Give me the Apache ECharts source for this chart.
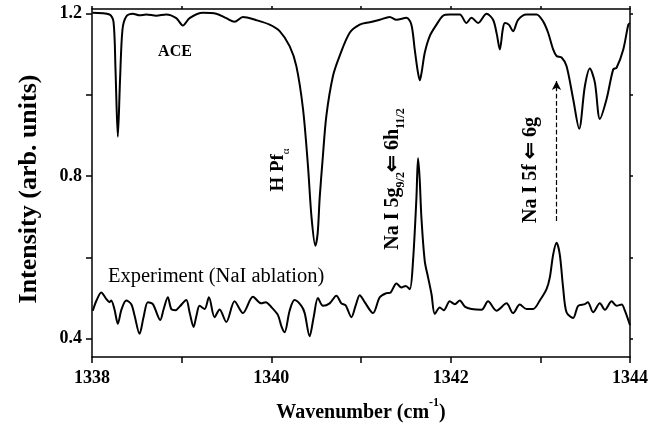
<!DOCTYPE html>
<html><head><meta charset="utf-8">
<script src="https://cdn.jsdelivr.net/npm/echarts@6/dist/echarts.min.js"></script>
<style>html,body{margin:0;padding:0;background:#fff}#c{width:669px;height:428px}</style>
</head><body><div id="c"></div>
<script>
// ACE simulated spectrum
const aceX = [1338.006,1338.195,1338.24,1338.262,1338.288,1338.313,1338.340,1338.382,1338.455,1338.530,1338.605,1338.717,1338.828,1338.940,1339.013,1339.088,1339.237,1339.386,1339.498,1339.590,1339.683,1339.833,1339.981,1340.093,1340.204,1340.279,1340.353,1340.408,1340.449,1340.491,1340.517,1340.539,1340.573,1340.614,1340.688,1340.762,1340.874,1340.986,1341.097,1341.209,1341.320,1341.395,1341.507,1341.562,1341.599,1341.633,1341.656,1341.678,1341.711,1341.767,1341.842,1341.915,1341.990,1342.102,1342.176,1342.232,1342.306,1342.400,1342.473,1342.515,1342.548,1342.581,1342.604,1342.648,1342.696,1342.752,1342.846,1342.958,1343.031,1343.087,1343.143,1343.181,1343.237,1343.292,1343.366,1343.433,1343.497,1343.552,1343.608,1343.664,1343.739,1343.813,1343.850,1343.925,1343.981,1344.0];
const aceY = [1.202,1.198,1.180,1.063,0.897,1.039,1.161,1.193,1.200,1.196,1.198,1.195,1.198,1.189,1.171,1.189,1.202,1.200,1.189,1.180,1.192,1.184,1.173,1.157,1.120,1.071,0.966,0.827,0.697,0.629,0.660,0.746,0.844,0.949,1.047,1.096,1.153,1.173,1.179,1.185,1.192,1.185,1.190,1.173,1.112,1.058,1.036,1.058,1.104,1.145,1.173,1.195,1.198,1.198,1.177,1.190,1.177,1.200,1.185,1.149,1.112,1.161,1.177,1.173,1.157,1.185,1.198,1.198,1.181,1.153,1.112,1.096,1.092,1.071,0.990,0.917,1.022,1.065,1.031,0.941,0.990,1.063,1.067,1.112,1.173,1.177];
// Experiment (NaI ablation)
const expX = [1338.009,1338.050,1338.103,1338.158,1338.195,1338.214,1338.251,1338.288,1338.329,1338.382,1338.438,1338.474,1338.530,1338.575,1338.623,1338.679,1338.761,1338.798,1338.846,1338.884,1338.932,1338.977,1339.051,1339.088,1339.133,1339.166,1339.200,1339.256,1339.304,1339.367,1339.423,1339.498,1339.590,1339.683,1339.795,1339.888,1339.936,1340.003,1340.074,1340.115,1340.148,1340.204,1340.259,1340.335,1340.372,1340.427,1340.472,1340.520,1340.576,1340.650,1340.725,1340.781,1340.829,1340.893,1340.941,1340.986,1341.041,1341.134,1341.209,1341.283,1341.331,1341.395,1341.451,1341.499,1341.544,1341.580,1341.618,1341.636,1341.654,1341.674,1341.711,1341.748,1341.786,1341.823,1341.878,1341.923,1341.990,1342.046,1342.102,1342.158,1342.232,1342.344,1342.417,1342.511,1342.623,1342.696,1342.771,1342.846,1342.920,1342.994,1343.069,1343.106,1343.143,1343.181,1343.217,1343.254,1343.292,1343.366,1343.422,1343.497,1343.530,1343.589,1343.664,1343.720,1343.795,1343.850,1343.906,1343.943,1344.0];
const expY = [0.469,0.494,0.514,0.498,0.490,0.494,0.472,0.437,0.472,0.494,0.485,0.458,0.412,0.453,0.490,0.485,0.446,0.472,0.502,0.473,0.470,0.479,0.495,0.465,0.429,0.458,0.481,0.473,0.502,0.453,0.472,0.441,0.492,0.463,0.503,0.487,0.490,0.477,0.458,0.429,0.416,0.469,0.495,0.481,0.463,0.406,0.453,0.500,0.481,0.487,0.506,0.487,0.482,0.453,0.482,0.507,0.490,0.463,0.502,0.512,0.514,0.536,0.526,0.530,0.522,0.591,0.746,0.844,0.795,0.697,0.591,0.551,0.510,0.461,0.477,0.470,0.492,0.485,0.494,0.479,0.473,0.471,0.492,0.469,0.487,0.463,0.484,0.473,0.473,0.494,0.522,0.551,0.607,0.636,0.607,0.526,0.465,0.451,0.481,0.485,0.490,0.465,0.487,0.471,0.492,0.481,0.484,0.469,0.433];
const xLabelValues = [1338, 1340, 1342, 1344];
const yTickValues = [0.4, 0.6, 0.8, 1.0, 1.2];
const yLabelValues = [0.4, 0.8, 1.2];
const arrowX = 1343.18, arrowFrom = 0.69, arrowTo = 1.034;

const FONT = '"Liberation Serif", "Times New Roman", serif';
const zip = (xs, ys) => xs.map((x, i) => [x, ys[i]]);
const chart = echarts.init(document.getElementById('c'), null, {renderer: 'canvas'});
const axLine = {show: true, lineStyle: {color: '#000', width: 1.5}};
chart.setOption({
  animation: false,
  backgroundColor: '#fff',
  grid: {left: 92, right: 39, top: 9, bottom: 68},
  xAxis: [{
    type: 'value', min: 1338, max: 1344, interval: 1,
    axisLine: axLine, splitLine: {show: false},
    axisTick: {show: true, inside: false, length: 6, lineStyle: {color: '#000', width: 1.5}},
    axisLabel: {margin: 12, color: '#000', fontFamily: FONT, fontWeight: 'bold', fontSize: 18,
      formatter: v => xLabelValues.includes(v) ? String(v) : ''},
    name: '{b|Wavenumber (cm}{s|-1}{b|)}', nameLocation: 'middle', nameGap: 40,
    nameTextStyle: {rich: {
      b: {fontFamily: FONT, fontWeight: 'bold', fontSize: 20, color: '#000', lineHeight: 26, verticalAlign: 'bottom'},
      s: {fontFamily: FONT, fontWeight: 'bold', fontSize: 12, color: '#000', lineHeight: 26, verticalAlign: 'top'}
    }}
  }, {
    type: 'value', position: 'top', min: 1338, max: 1344, interval: 1,
    axisLine: axLine, splitLine: {show: false},
    axisTick: {show: true, length: 3, lineStyle: {color: '#000', width: 1.5}},
    axisLabel: {show: false}
  }],
  yAxis: [{
    type: 'value', min: 0.355, max: 1.2115,
    axisLine: axLine, splitLine: {show: false},
    axisTick: {show: true, length: 6, customValues: yTickValues, lineStyle: {color: '#000', width: 1.5}},
    axisLabel: {margin: 10, customValues: yLabelValues, color: '#000', fontFamily: FONT, fontWeight: 'bold', fontSize: 18,
      formatter: v => v.toFixed(1)},
    name: 'Intensity (arb. units)', nameLocation: 'middle', nameGap: 50,
    nameTextStyle: {fontFamily: FONT, fontWeight: 'bold', fontSize: 26, color: '#000', padding: [0, 0, 0, -12]}
  }, {
    type: 'value', position: 'right', min: 0.355, max: 1.2115,
    axisLine: axLine, splitLine: {show: false},
    axisTick: {show: true, length: 3, customValues: yTickValues, lineStyle: {color: '#000', width: 1.5}},
    axisLabel: {show: false}
  }],
  series: [{
    type: 'line', name: 'ACE', data: zip(aceX, aceY), showSymbol: false, smooth: 0.3,
    lineStyle: {color: '#000', width: 2}
  }, {
    type: 'line', name: 'Experiment', data: zip(expX, expY), showSymbol: false, smooth: 0.3,
    lineStyle: {color: '#000', width: 2},
    markLine: {silent: true, symbol: ['none', 'arrow'], symbolSize: [7, 9], label: {show: false},
      lineStyle: {type: 'dashed', color: '#000', width: 1.2},
      data: [[{coord: [arrowX, arrowFrom]}, {coord: [arrowX, arrowTo]}]]}
  }],
  graphic: [
    {type: 'text', x: 175, y: 52, style: {text: 'ACE', font: 'bold 16px ' + FONT, fill: '#000', align: 'center', verticalAlign: 'middle'}},
    {type: 'text', x: 108, y: 277, style: {text: 'Experiment (NaI ablation)', font: '20.5px ' + FONT, fill: '#000', align: 'left', verticalAlign: 'middle'}},
    {type: 'text', x: 278, y: 170, rotation: Math.PI / 2, style: {
      text: '{m|H Pf}{s|α}', align: 'center', verticalAlign: 'middle',
      rich: {m: {fontFamily: FONT, fontWeight: 'bold', fontSize: 19, fill: '#000', lineHeight: 28, verticalAlign: 'middle'},
             s: {fontFamily: FONT, fontWeight: 'normal', fontSize: 11, fill: '#000', lineHeight: 12, verticalAlign: 'bottom'}}}},
    {type: 'text', x: 393, y: 179, rotation: Math.PI / 2, style: {
      text: '{m|Na I 5g}{s|9/2}{m|⇐ 6h}{s|11/2}', align: 'center', verticalAlign: 'middle',
      rich: {m: {fontFamily: FONT, fontWeight: 'bold', fontSize: 20, fill: '#000', lineHeight: 28, verticalAlign: 'middle'},
             s: {fontFamily: FONT, fontWeight: 'bold', fontSize: 12, fill: '#000', lineHeight: 12, verticalAlign: 'bottom'}}}},
    {type: 'text', x: 531, y: 170, rotation: Math.PI / 2, style: {
      text: 'Na I 5f ⇐ 6g', align: 'center', verticalAlign: 'middle',
      font: 'bold 20px ' + FONT, fill: '#000'}}
  ]
});
</script></body></html>
